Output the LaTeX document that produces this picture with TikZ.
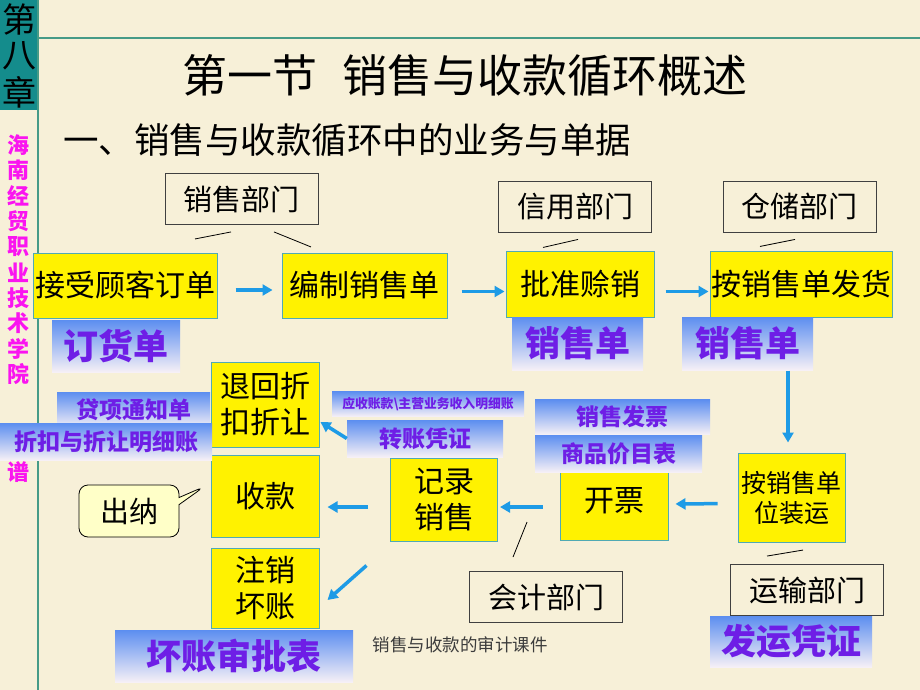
\documentclass[tikz,border=0pt]{standalone}
\usepackage{fontspec}
\setmainfont{Noto Sans CJK SC}
\usetikzlibrary{arrows.meta,shapes.callouts}
\definecolor{paper}{RGB}{247,240,216}
\definecolor{sidebar}{RGB}{20,140,140}
\definecolor{ruleline}{RGB}{70,155,135}
\definecolor{boxedge}{RGB}{80,170,180}
\definecolor{flowblue}{RGB}{30,155,230}
\definecolor{docblue}{RGB}{92,142,240}
\definecolor{docpale}{RGB}{246,240,246}
\definecolor{docink}{RGB}{110,30,230}
\definecolor{schoolpink}{RGB}{250,20,240}
\definecolor{calloutfill}{RGB}{255,255,200}
\definecolor{footgray}{RGB}{60,60,60}
\begin{document}
\begin{tikzpicture}[x=1pt,y=1pt,
  task/.style={draw=boxedge,fill=yellow,line width=1pt,minimum width=108pt,minimum height=82pt,align=center,font=\fontsize{30}{36}\selectfont},
  dept/.style={draw=black!75,line width=0.9pt,minimum width=153pt,minimum height=51pt,font=\fontsize{29}{34}\selectfont},
  doc/.style={top color=docblue,bottom color=docpale,text=docink,font=\fontsize{23}{27}\selectfont\bfseries},
  bigdoc/.style={doc,font=\fontsize{35}{40}\selectfont\bfseries},
  flow/.style={draw=flowblue,line width=3.5pt,-{Triangle[length=10pt,width=11pt]}},
  tie/.style={draw=black,line width=0.8pt}]
\tikzstyle{every node}+=[inner sep=0pt]
\useasboundingbox (0,0) rectangle (920,-690);
\fill[paper] (0,0) rectangle (920,-690);
\fill[sidebar] (0,0) rectangle (38,-110);
\draw[ruleline,line width=1.2pt] (38,0) -- (38,-690);
\draw[ruleline,line width=1.5pt] (38,-38) -- (920,-38);
\node[font=\fontsize{34}{36}\selectfont] (zhang1) at (19,-20) {第};
\node[font=\fontsize{34}{36}\selectfont] (zhang2) at (19,-56) {八};
\node[font=\fontsize{34}{36}\selectfont] (zhang3) at (19,-92) {章};
\foreach \ch [count=\i] in {海,南,经,贸,职,业,技,术,学,院}
  \node[text=schoolpink,font=\fontsize{22}{24}\selectfont\bfseries] (school\i) at (19,-145-25.5*\i+25.5) {\ch};
\node[text=schoolpink,font=\fontsize{22}{24}\selectfont\bfseries] (school11) at (19,-472) {谱};

\node (title) at (465,-75) {\fontsize{45}{50}\selectfont 第一节\hspace{0.55em}销售与收款循环概述};
\node[anchor=west] (subtitle) at (63,-140) {\fontsize{35.5}{40}\selectfont 一、销售与收款循环中的业务与单据};

\node[task,minimum width=184pt,minimum height=65pt] (jieshou) at (125,-285.5) {接受顾客订单};
\node[task,minimum width=165pt,minimum height=65pt] (bianzhi) at (364.5,-285.5) {编制销售单};
\node[task,minimum width=148pt,minimum height=66pt] (pizhun) at (580,-284) {批准赊销};
\node[task,minimum width=182pt,minimum height=66pt] (fahuo) at (801,-284) {按销售单发货};
\node[task,minimum width=107pt,minimum height=89pt,font=\fontsize{25}{30}\selectfont] (zhuangyun) at (791.5,-497.5) {按销售单\\位装运};
\node[task,minimum height=78pt] (kaipiao) at (614,-501) {开票};
\node[task,minimum width=107pt,minimum height=83pt] (jilu) at (444,-499.5) {记录\\销售};
\node[task] (shoukuan) at (265,-496) {收款};
\node[task,minimum height=85pt] (tuihui) at (265,-404.5) {退回折\\扣折让};
\node[task,minimum height=80pt] (zhuxiao) at (265,-588) {注销\\坏账};

\node[dept] (xiaoshoubu) at (241.5,-199) {销售部门};
\node[dept] (xinyong) at (575,-206.5) {信用部门};
\node[dept] (cangchu) at (799.5,-206.5) {仓储部门};
\node[dept] (kuaiji) at (546,-597) {会计部门};
\node[dept] (yunshu) at (807,-590) {运输部门};

\node[bigdoc,minimum width=128pt,minimum height=52pt] (dinghuo) at (116,-346) {订货单};
\node[bigdoc,minimum width=131pt,minimum height=53pt] (xsdan1) at (577.5,-343.5) {销售单};
\node[bigdoc,minimum width=131pt,minimum height=53pt] (xsdan2) at (747.5,-343.5) {销售单};
\node[doc,minimum width=153pt,minimum height=36pt] (daixiang) at (133.5,-410) {贷项通知单};
\node[doc,minimum width=212pt,minimum height=37pt] (zhekou) at (106,-441.5) {折扣与折让明细账};
\node[doc,minimum width=192pt,minimum height=25pt,font=\fontsize{12.8}{15}\selectfont\bfseries] (yingshou) at (428,-404) {应收账款\textbackslash 主营业务收入明细账};
\node[doc,minimum width=156pt,minimum height=37pt] (zhuanzhang) at (425,-438.5) {转账凭证};
\node[doc,minimum width=175pt,minimum height=35pt] (fapiao) at (622.5,-417) {销售发票};
\node[doc,minimum width=167pt,minimum height=37pt] (jiamu) at (618.5,-453.5) {商品价目表};
\node[bigdoc,minimum width=238pt,minimum height=52pt] (huaizhang) at (234,-656) {坏账审批表};
\node[bigdoc,minimum width=162pt,minimum height=51pt] (fayun) at (791,-641.5) {发运凭证};

\draw[tie] ([shift={(-46.5,-14)}]xiaoshoubu.south) -- ([shift={(-10.5,-7)}]xiaoshoubu.south);
\draw[tie] ([shift={(32.5,-7)}]xiaoshoubu.south) -- ([shift={(69.5,-22)}]xiaoshoubu.south);
\draw[tie] ([shift={(-32,-15)}]xinyong.south) -- ([shift={(3,-7)}]xinyong.south);
\draw[tie] ([shift={(-39.5,-14)}]cangchu.south) -- ([shift={(-4.5,-7)}]cangchu.south);
\draw[tie] ([shift={(-19,49)}]kuaiji.north) -- ([shift={(-33,14)}]kuaiji.north);
\draw[tie] ([shift={(-40,8)}]yunshu.north) -- ([shift={(-4,14)}]yunshu.north);

\draw[flow,shorten <=18pt,shorten >=9pt] ([yshift=-4.5pt]jieshou.east) -- ([yshift=-4.5pt]bianzhi.west);
\draw[flow,shorten <=14pt,shorten >=1pt] ([yshift=-6pt]bianzhi.east) -- ([yshift=-7.5pt]pizhun.west);
\draw[flow,shorten <=11pt,shorten >=1pt] ([yshift=-7.5pt]pizhun.east) -- ([yshift=-7.5pt]fahuo.west);
\draw[flow] ([shift={(-3.5,82)}]zhuangyun.north) -- ([shift={(-3.5,10)}]zhuangyun.north);
\draw[flow,shorten <=20pt,shorten >=7pt] ([yshift=-6pt]zhuangyun.west) -- ([yshift=-3pt]kaipiao.east);
\draw[flow,shorten <=17pt,shorten >=2pt] ([yshift=-6pt]kaipiao.west) -- ([yshift=-7.5pt]jilu.east);
\draw[flow,shorten <=22pt,shorten >=8pt] ([yshift=-7.5pt]jilu.west) -- ([yshift=-11pt]shoukuan.east);
\draw[flow] (zhuanzhang.west) -- ([shift={(1,-17.5)}]tuihui.east);
\draw[flow] ([shift={(-23.5,-24)}]jilu.south west) -- ([shift={(8,-12)}]zhuxiao.east);

\node[rectangle callout,draw=black,line width=0.8pt,fill=calloutfill,rounded corners=9pt,minimum width=100pt,minimum height=52pt,font=\fontsize{29}{34}\selectfont,callout absolute pointer={([shift={(-6,-32)}]shoukuan.north west)}] (chuna) at (129,-511) {出纳};
\node[text=footgray,font=\fontsize{17.5}{20}\selectfont] (footer) at (460,-645) {销售与收款的审计课件};
\end{tikzpicture}
\end{document}
